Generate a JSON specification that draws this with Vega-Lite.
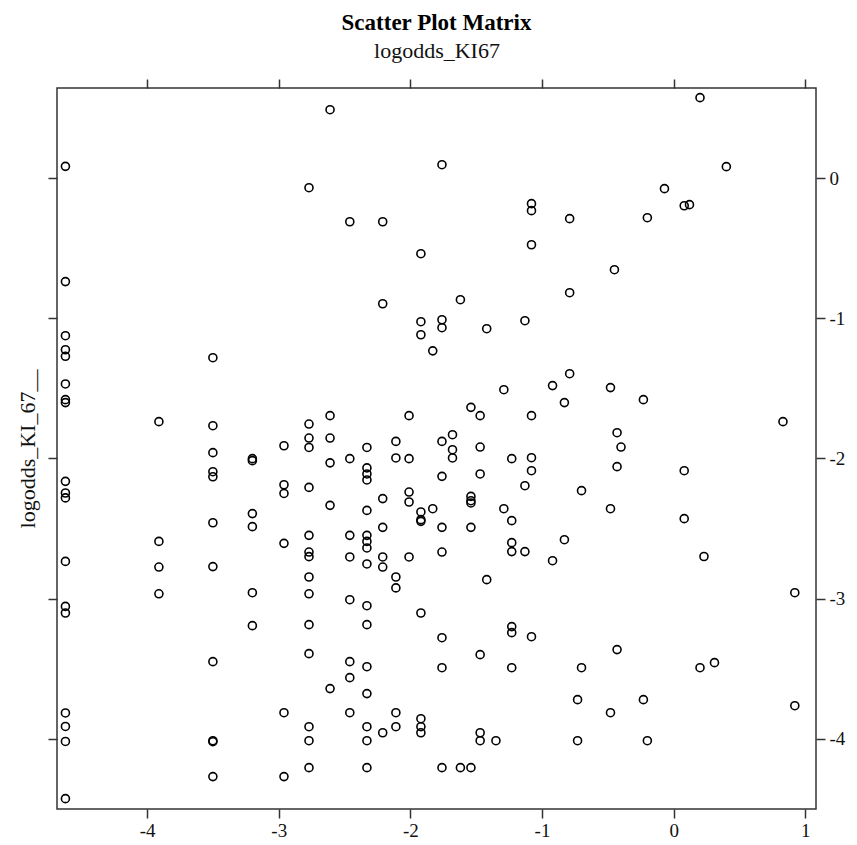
{
  "$schema": "https://vega.github.io/schema/vega-lite/v6.json",
  "autosize": {"type": "none"},
  "width": 759,
  "height": 721,
  "padding": {"left": 57, "top": 88, "right": 41, "bottom": 36},
  "background": "white",
  "title": {
    "text": "Scatter Plot Matrix",
    "font": "Liberation Serif",
    "fontSize": 23,
    "fontWeight": "bold",
    "color": "#000000",
    "anchor": "middle",
    "offset": 4
  },
  "config": {
    "view": {"stroke": "#333333", "strokeWidth": 1.5},
    "axis": {
      "grid": false,
      "domain": false,
      "tickColor": "#333333",
      "tickWidth": 1.5,
      "tickSize": 9,
      "labelFont": "Liberation Serif",
      "labelFontSize": 19,
      "labelColor": "#111111",
      "titleFont": "Liberation Serif",
      "titleFontSize": 22,
      "titleFontWeight": "normal",
      "titleColor": "#111111"
    }
  },
  "data": {
    "values": [
      {"x": -4.62, "y": 0.083}, {"x": -4.62, "y": -0.739}, {"x": -4.62, "y": -1.125}, {"x": -4.62, "y": -1.225},
      {"x": -4.62, "y": -1.272}, {"x": -4.62, "y": -1.469}, {"x": -4.62, "y": -1.581}, {"x": -4.62, "y": -1.602},
      {"x": -4.62, "y": -2.164}, {"x": -4.62, "y": -2.247}, {"x": -4.62, "y": -2.282}, {"x": -4.62, "y": -2.735},
      {"x": -4.62, "y": -3.056}, {"x": -4.62, "y": -3.103}, {"x": -4.62, "y": -3.816}, {"x": -4.62, "y": -3.912},
      {"x": -4.62, "y": -4.019}, {"x": -4.62, "y": -4.427},
      {"x": -3.91, "y": -1.738}, {"x": -3.91, "y": -2.592}, {"x": -3.91, "y": -2.775}, {"x": -3.91, "y": -2.966},
      {"x": -3.5, "y": -1.282}, {"x": -3.5, "y": -1.767}, {"x": -3.5, "y": -1.959}, {"x": -3.5, "y": -2.095},
      {"x": -3.5, "y": -2.131}, {"x": -3.5, "y": -2.459}, {"x": -3.5, "y": -2.772}, {"x": -3.5, "y": -3.45},
      {"x": -3.5, "y": -4.014}, {"x": -3.5, "y": -4.021}, {"x": -3.5, "y": -4.27},
      {"x": -3.2, "y": -2.002}, {"x": -3.2, "y": -2.016}, {"x": -3.2, "y": -2.394}, {"x": -3.2, "y": -2.487},
      {"x": -3.2, "y": -2.958}, {"x": -3.2, "y": -3.193},
      {"x": -2.96, "y": -1.91}, {"x": -2.96, "y": -2.188}, {"x": -2.96, "y": -2.25}, {"x": -2.96, "y": -2.606},
      {"x": -2.96, "y": -3.814}, {"x": -2.96, "y": -4.27},
      {"x": -2.77, "y": -0.069}, {"x": -2.77, "y": -1.755}, {"x": -2.77, "y": -1.855}, {"x": -2.77, "y": -1.922},
      {"x": -2.77, "y": -2.207}, {"x": -2.77, "y": -2.549}, {"x": -2.77, "y": -2.668}, {"x": -2.77, "y": -2.701},
      {"x": -2.77, "y": -2.846}, {"x": -2.77, "y": -2.966}, {"x": -2.77, "y": -3.186}, {"x": -2.77, "y": -3.393},
      {"x": -2.77, "y": -3.914}, {"x": -2.77, "y": -4.014}, {"x": -2.77, "y": -4.206},
      {"x": -2.61, "y": 0.487}, {"x": -2.61, "y": -1.695}, {"x": -2.61, "y": -1.855}, {"x": -2.61, "y": -2.032},
      {"x": -2.61, "y": -2.335}, {"x": -2.61, "y": -3.642},
      {"x": -2.46, "y": -0.312}, {"x": -2.46, "y": -2.002}, {"x": -2.46, "y": -2.549}, {"x": -2.46, "y": -2.703},
      {"x": -2.46, "y": -3.008}, {"x": -2.46, "y": -3.45}, {"x": -2.46, "y": -3.564}, {"x": -2.46, "y": -3.814},
      {"x": -2.33, "y": -1.922}, {"x": -2.33, "y": -2.068}, {"x": -2.33, "y": -2.111}, {"x": -2.33, "y": -2.154},
      {"x": -2.33, "y": -2.371}, {"x": -2.33, "y": -2.549}, {"x": -2.33, "y": -2.592}, {"x": -2.33, "y": -2.639},
      {"x": -2.33, "y": -2.753}, {"x": -2.33, "y": -3.051}, {"x": -2.33, "y": -3.186}, {"x": -2.33, "y": -3.486},
      {"x": -2.33, "y": -3.678}, {"x": -2.33, "y": -3.914}, {"x": -2.33, "y": -4.014}, {"x": -2.33, "y": -4.206},
      {"x": -2.21, "y": -0.312}, {"x": -2.21, "y": -0.897}, {"x": -2.21, "y": -2.287}, {"x": -2.21, "y": -2.492},
      {"x": -2.21, "y": -2.703}, {"x": -2.21, "y": -2.775}, {"x": -2.21, "y": -3.957},
      {"x": -2.11, "y": -1.879}, {"x": -2.11, "y": -1.997}, {"x": -2.11, "y": -2.846}, {"x": -2.11, "y": -2.924},
      {"x": -2.11, "y": -3.814}, {"x": -2.11, "y": -3.914},
      {"x": -2.01, "y": -1.695}, {"x": -2.01, "y": -2.002}, {"x": -2.01, "y": -2.24}, {"x": -2.01, "y": -2.311},
      {"x": -2.01, "y": -2.703},
      {"x": -1.92, "y": -0.54}, {"x": -1.92, "y": -1.025}, {"x": -1.92, "y": -1.118}, {"x": -1.92, "y": -2.382},
      {"x": -1.92, "y": -2.437}, {"x": -1.92, "y": -2.449}, {"x": -1.92, "y": -3.103}, {"x": -1.92, "y": -3.857},
      {"x": -1.92, "y": -3.914}, {"x": -1.92, "y": -3.957},
      {"x": -1.83, "y": -1.233}, {"x": -1.83, "y": -2.359},
      {"x": -1.76, "y": 0.095}, {"x": -1.76, "y": -1.011}, {"x": -1.76, "y": -1.068}, {"x": -1.76, "y": -1.879},
      {"x": -1.76, "y": -2.128}, {"x": -1.76, "y": -2.492}, {"x": -1.76, "y": -2.668}, {"x": -1.76, "y": -3.279},
      {"x": -1.76, "y": -3.493}, {"x": -1.76, "y": -4.206},
      {"x": -1.68, "y": -1.831}, {"x": -1.68, "y": -1.938}, {"x": -1.68, "y": -1.997},
      {"x": -1.62, "y": -0.868}, {"x": -1.62, "y": -4.206},
      {"x": -1.54, "y": -1.636}, {"x": -1.54, "y": -2.271}, {"x": -1.54, "y": -2.302}, {"x": -1.54, "y": -2.318},
      {"x": -1.54, "y": -2.492}, {"x": -1.54, "y": -4.206},
      {"x": -1.47, "y": -1.695}, {"x": -1.47, "y": -1.919}, {"x": -1.47, "y": -2.111}, {"x": -1.47, "y": -3.4},
      {"x": -1.47, "y": -3.957}, {"x": -1.47, "y": -4.014},
      {"x": -1.42, "y": -1.075}, {"x": -1.42, "y": -2.865},
      {"x": -1.35, "y": -4.014},
      {"x": -1.29, "y": -1.51}, {"x": -1.29, "y": -2.359},
      {"x": -1.23, "y": -2.002}, {"x": -1.23, "y": -2.444}, {"x": -1.23, "y": -2.601}, {"x": -1.23, "y": -2.665},
      {"x": -1.23, "y": -3.2}, {"x": -1.23, "y": -3.243}, {"x": -1.23, "y": -3.493},
      {"x": -1.13, "y": -1.018}, {"x": -1.13, "y": -2.195}, {"x": -1.13, "y": -2.665},
      {"x": -1.08, "y": -0.183}, {"x": -1.08, "y": -0.233}, {"x": -1.08, "y": -0.476}, {"x": -1.08, "y": -1.695},
      {"x": -1.08, "y": -1.995}, {"x": -1.08, "y": -2.088}, {"x": -1.08, "y": -3.272},
      {"x": -0.92, "y": -1.481}, {"x": -0.92, "y": -2.73},
      {"x": -0.83, "y": -1.602}, {"x": -0.83, "y": -2.58},
      {"x": -0.79, "y": -0.29}, {"x": -0.79, "y": -0.818}, {"x": -0.79, "y": -1.396},
      {"x": -0.73, "y": -3.721}, {"x": -0.73, "y": -4.014},
      {"x": -0.7, "y": -2.23}, {"x": -0.7, "y": -3.493},
      {"x": -0.45, "y": -0.654},
      {"x": -0.43, "y": -1.817}, {"x": -0.43, "y": -2.059}, {"x": -0.43, "y": -3.364},
      {"x": -0.4, "y": -1.919},
      {"x": -0.48, "y": -1.495}, {"x": -0.48, "y": -2.359}, {"x": -0.48, "y": -3.814},
      {"x": -0.23, "y": -1.581}, {"x": -0.23, "y": -3.721},
      {"x": -0.2, "y": -0.283}, {"x": -0.2, "y": -4.014},
      {"x": -0.07, "y": -0.076},
      {"x": 0.08, "y": -0.198}, {"x": 0.08, "y": -2.088}, {"x": 0.08, "y": -2.43},
      {"x": 0.12, "y": -0.19},
      {"x": 0.2, "y": 0.573}, {"x": 0.2, "y": -3.493},
      {"x": 0.23, "y": -2.7},
      {"x": 0.31, "y": -3.457},
      {"x": 0.4, "y": 0.081},
      {"x": 0.83, "y": -1.738},
      {"x": 0.92, "y": -2.958}, {"x": 0.92, "y": -3.764}
    ]
  },
  "resolve": {"axis": {"x": "independent", "y": "independent"}},
  "layer": [
    {
      "mark": {"type": "point", "shape": "circle", "filled": false, "stroke": "#000000", "strokeWidth": 1.6, "size": 64, "opacity": 1},
      "encoding": {
        "x": {
          "field": "x",
          "type": "quantitative",
          "scale": {"domain": [-4.684, 1.081], "nice": false, "zero": false},
          "axis": {"orient": "bottom", "values": [-4, -3, -2, -1, 0, 1], "title": null, "labelPadding": 3, "labelFlush": false, "labelExpr": "replace(datum.label, '\u2212', '-')"}
        },
        "y": {
          "field": "y",
          "type": "quantitative",
          "scale": {"domain": [-4.501, 0.642], "nice": false, "zero": false},
          "axis": {"orient": "right", "values": [-4, -3, -2, -1, 0], "title": null, "labelPadding": 4, "labelFlush": false, "labelExpr": "replace(datum.label, '\u2212', '-')"}
        }
      }
    },
    {
      "mark": {"type": "point", "opacity": 0},
      "encoding": {
        "x": {
          "field": "x",
          "type": "quantitative",
          "axis": {"orient": "top", "values": [-4, -3, -2, -1, 0, 1], "labels": false, "title": "logodds_KI67", "titlePadding": 16}
        },
        "y": {
          "field": "y",
          "type": "quantitative",
          "axis": {"orient": "left", "values": [-4, -3, -2, -1, 0], "labels": false, "title": "logodds_KI_67__", "titlePadding": 8}
        }
      }
    }
  ]
}
